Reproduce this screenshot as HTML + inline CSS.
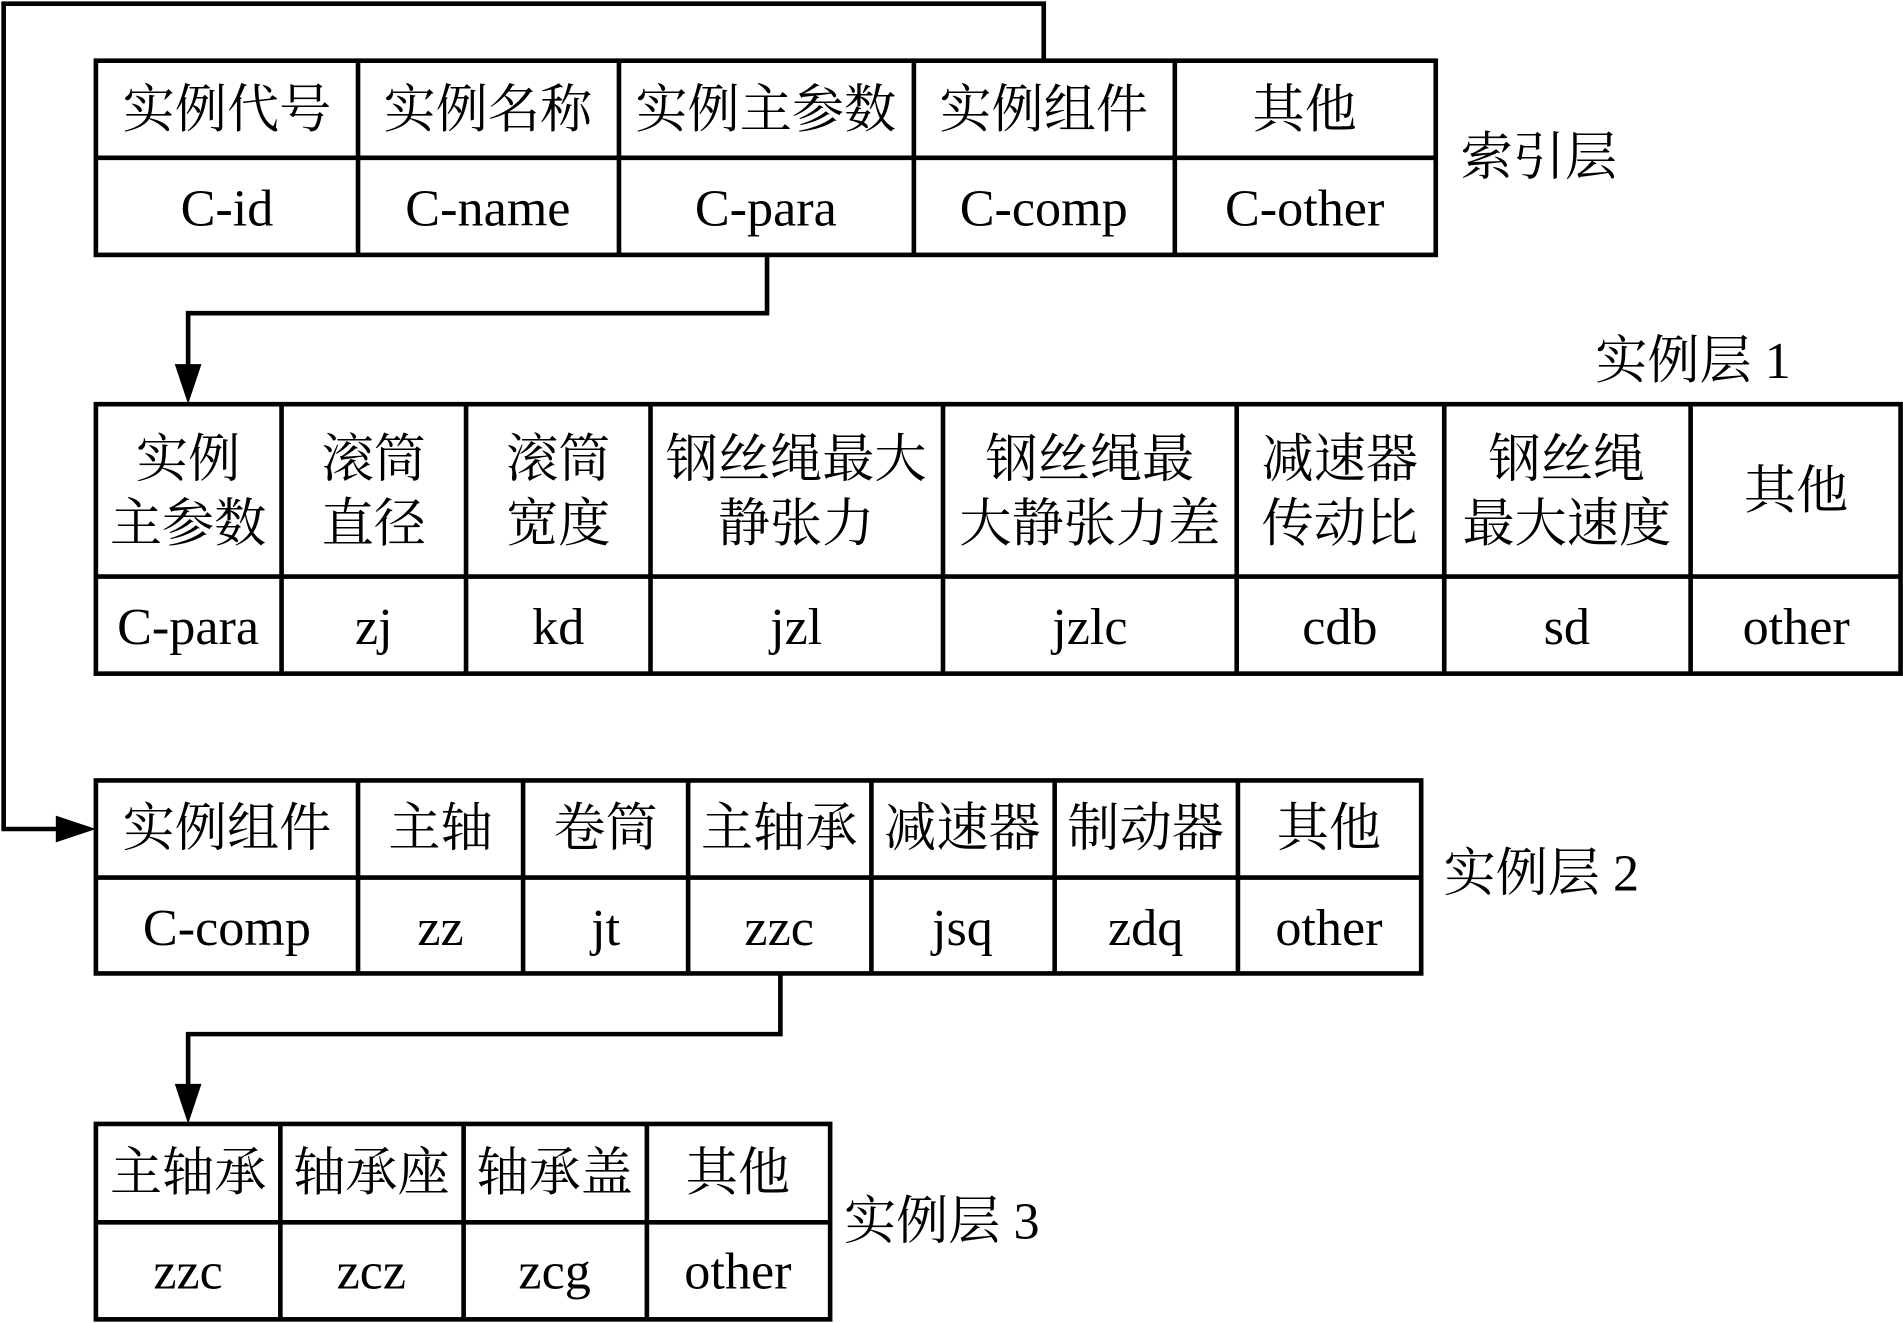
<!DOCTYPE html>
<html><head><meta charset="utf-8"><style>
html,body{margin:0;padding:0;background:#fff;}
svg{display:block}
text{font-family:"Liberation Serif","Noto Serif CJK SC",serif;font-size:43px;fill:#000;text-anchor:middle;dominant-baseline:central}
</style></head><body>
<svg width="1903" height="1323" viewBox="0 0 1568 1090" preserveAspectRatio="none" xmlns="http://www.w3.org/2000/svg">
<g fill="none" stroke="#000" stroke-width="3.8">
<rect x="79" y="50" width="1104" height="160"/>
<line x1="79" y1="130" x2="1183" y2="130"/>
<line x1="295" y1="50" x2="295" y2="210"/><line x1="510" y1="50" x2="510" y2="210"/><line x1="753" y1="50" x2="753" y2="210"/><line x1="968" y1="50" x2="968" y2="210"/>
<rect x="79" y="333" width="1487" height="222"/>
<line x1="79" y1="475" x2="1566" y2="475"/>
<line x1="232" y1="333" x2="232" y2="555"/><line x1="384" y1="333" x2="384" y2="555"/><line x1="536" y1="333" x2="536" y2="555"/><line x1="777" y1="333" x2="777" y2="555"/><line x1="1019" y1="333" x2="1019" y2="555"/><line x1="1190" y1="333" x2="1190" y2="555"/><line x1="1393" y1="333" x2="1393" y2="555"/>
<rect x="79" y="643" width="1092" height="159"/>
<line x1="79" y1="723" x2="1171" y2="723"/>
<line x1="295" y1="643" x2="295" y2="802"/><line x1="431" y1="643" x2="431" y2="802"/><line x1="567" y1="643" x2="567" y2="802"/><line x1="718" y1="643" x2="718" y2="802"/><line x1="869" y1="643" x2="869" y2="802"/><line x1="1020" y1="643" x2="1020" y2="802"/>
<rect x="79" y="926" width="605" height="161"/>
<line x1="79" y1="1007" x2="684" y2="1007"/>
<line x1="231" y1="926" x2="231" y2="1087"/><line x1="382" y1="926" x2="382" y2="1087"/><line x1="533" y1="926" x2="533" y2="1087"/>
<polyline points="860,50 860,3 3,3 3,683 50,683"/>
<polyline points="632,210 632,258 155,258 155,305"/>
<polyline points="643,802 643,852 155,852 155,898"/>
</g>
<g fill="#000">
<polygon points="46,672 79,683 46,694"/>
<polygon points="144,300 166,300 155,333"/>
<polygon points="144,893 166,893 155,926"/>
</g>
<text x="187" y="91">实例代号</text><text x="402" y="91">实例名称</text><text x="631" y="91">实例主参数</text><text x="860" y="91">实例组件</text><text x="1075" y="91">其他</text>
<text x="187" y="172">C-id</text><text x="402" y="172">C-name</text><text x="631" y="172">C-para</text><text x="860" y="172">C-comp</text><text x="1075" y="172">C-other</text>
<text x="1268" y="130">索引层</text>
<text x="1395" y="298">实例层 1</text>
<text x="155" y="379">实例</text><text x="155" y="432">主参数</text>
<text x="308" y="379">滚筒</text><text x="308" y="432">直径</text>
<text x="460" y="379">滚筒</text><text x="460" y="432">宽度</text>
<text x="656" y="379">钢丝绳最大</text><text x="656" y="432">静张力</text>
<text x="898" y="379">钢丝绳最</text><text x="898" y="432">大静张力差</text>
<text x="1104" y="379">减速器</text><text x="1104" y="432">传动比</text>
<text x="1291" y="379">钢丝绳</text><text x="1291" y="432">最大速度</text>
<text x="1480" y="405">其他</text>
<text x="155" y="517">C-para</text><text x="308" y="517">zj</text><text x="460" y="517">kd</text><text x="656" y="517">jzl</text><text x="898" y="517">jzlc</text><text x="1104" y="517">cdb</text><text x="1291" y="517">sd</text><text x="1480" y="517">other</text>
<text x="187" y="683">实例组件</text><text x="363" y="683">主轴</text><text x="499" y="683">卷筒</text><text x="642" y="683">主轴承</text><text x="793" y="683">减速器</text><text x="944" y="683">制动器</text><text x="1095" y="683">其他</text>
<text x="187" y="765">C-comp</text><text x="363" y="765">zz</text><text x="499" y="765">jt</text><text x="642" y="765">zzc</text><text x="793" y="765">jsq</text><text x="944" y="765">zdq</text><text x="1095" y="765">other</text>
<text x="1270" y="720">实例层 2</text>
<text x="155" y="967">主轴承</text><text x="306" y="967">轴承座</text><text x="457" y="967">轴承盖</text><text x="608" y="967">其他</text>
<text x="155" y="1048">zzc</text><text x="306" y="1048">zcz</text><text x="457" y="1048">zcg</text><text x="608" y="1048">other</text>
<text x="776" y="1007">实例层 3</text>
</svg>
</body></html>
